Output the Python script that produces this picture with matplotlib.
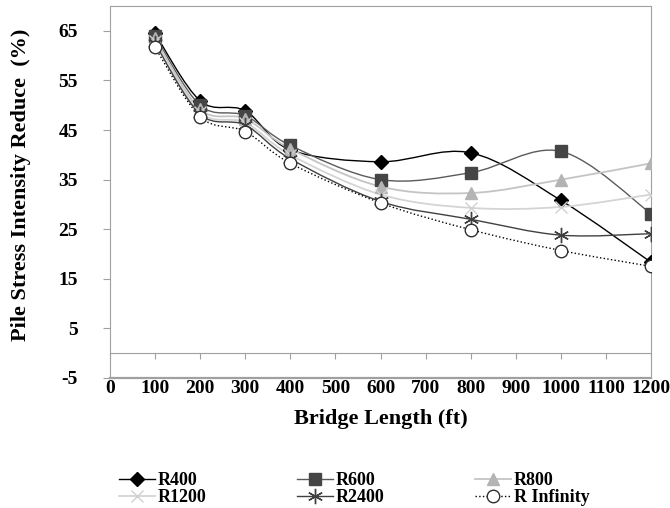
import matplotlib.pyplot as plt
from matplotlib.path import Path
from matplotlib.patches import PathPatch
from matplotlib.lines import Line2D

plt.rcParams['font.family'] = ['Liberation Serif', 'DejaVu Serif']
plt.rcParams['font.weight'] = 'bold'
plt.rcParams['axes.unicode_minus'] = False

# Datos
longitud = [100, 200, 300, 400, 600, 800, 1000, 1200]
r400 = [64.5, 50.9, 48.9, 41.0, 38.6, 40.4, 30.8, 18.3]
r600 = [64.0, 50.0, 47.9, 41.9, 35.0, 36.4, 40.7, 28.1]
r800 = [63.5, 49.2, 47.3, 41.2, 33.6, 32.3, 35.0, 38.3]
r1200 = [63.0, 48.6, 46.5, 40.0, 32.0, 29.3, 29.5, 32.0]
r2400 = [62.5, 48.2, 46.0, 39.2, 30.6, 27.0, 23.8, 24.1]
r_inf = [61.7, 47.7, 44.7, 38.3, 30.3, 24.9, 20.7, 17.5]

series = [
    ('R400', r400, '#000000', '-', 'D', '#000000', '#000000', 7, 1.0),
    ('R600', r600, '#5a5a5a', '-', 's', '#454545', '#454545', 8, 1.0),
    ('R800', r800, '#c4c4c4', '-', '^', '#b4b4b4', '#b4b4b4', 9, 1.3),
    ('R1200', r1200, '#d4d4d4', '-', 'x', '#d0d0d0', '#d0d0d0', 9, 1.3),
    ('R2400', r2400, '#404040', '-', (6, 2, 0), '#404040', '#404040', 11, 1.0),
    ('R Infinity', r_inf, '#000000', ':', 'o', 'white', '#303030', 9, 1.0),
]


def curva_suave(x, y):
    # curva tipo "smoothed line" de Excel (Catmull-Rom con Bezier cubica)
    verts = [(x[0], y[0])]
    codes = [Path.MOVETO]
    n = len(x)
    for i in range(n - 1):
        x0, y0 = (x[i - 1], y[i - 1]) if i > 0 else (x[i], y[i])
        x3, y3 = (x[i + 2], y[i + 2]) if i + 2 < n else (x[i + 1], y[i + 1])
        x1, y1 = x[i], y[i]
        x2, y2 = x[i + 1], y[i + 1]
        c1 = (x1 + (x2 - x0) / 6, y1 + (y2 - y0) / 6)
        c2 = (x2 - (x3 - x1) / 6, y2 - (y3 - y1) / 6)
        verts += [c1, c2, (x2, y2)]
        codes += [Path.CURVE4] * 3
    return Path(verts, codes)


fig = plt.figure(figsize=(6.7, 5.08), dpi=100)
ax = fig.add_axes([0.164, 0.256, 0.808, 0.732])

handles = []
for nombre, valores, color, estilo, marcador, relleno, borde, tam, ancho in series:
    ax.add_patch(PathPatch(curva_suave(longitud, valores), facecolor='none',
                           edgecolor=color, linestyle=estilo, linewidth=ancho, zorder=2))
    ax.plot(longitud, valores, linestyle='none', marker=marcador, markersize=tam,
            markerfacecolor=relleno, markeredgecolor=borde, markeredgewidth=1.0, zorder=3)
    handles.append(Line2D([], [], color=color, linestyle=estilo, linewidth=ancho,
                          marker=marcador, markersize=tam, markerfacecolor=relleno,
                          markeredgecolor=borde))

ax.set_xlim(0, 1200)
ax.set_ylim(-5, 70)
ax.set_xticks(range(0, 1201, 100))
ax.set_yticks(range(-5, 66, 10))

for lado in ['left', 'top', 'right', 'bottom']:
    ax.spines[lado].set_color('#a0a0a0')
ax.spines['bottom'].set_position(('data', 0))
ax.axhline(-5, color='#a0a0a0', linewidth=1.6, clip_on=False, zorder=1)

ax.tick_params(axis='x', direction='out', length=4, color='#a0a0a0', pad=15, labelsize=14)
ax.tick_params(axis='y', direction='out', length=5, color='#a0a0a0', pad=18, labelsize=14)

ax.set_xlabel('Bridge Length (ft)', fontsize=16, fontweight='bold', labelpad=9)
ax.set_ylabel('Pile Stress Intensity Reduce  (%)', fontsize=16, fontweight='bold')
ax.yaxis.set_label_coords(-0.145, 0.52)

# orden por filas como en la leyenda original
orden = [0, 3, 1, 4, 2, 5]
fig.legend([handles[i] for i in orden], [series[i][0] for i in orden], ncol=3,
           loc='upper left', bbox_to_anchor=(110 / 670, 1 - 463 / 508), borderpad=0,
           frameon=False, fontsize=13, handlelength=2.0, columnspacing=5.0,
           labelspacing=0.0, handletextpad=0.15, handleheight=0.5)

fig.savefig('out.png', dpi=100)
